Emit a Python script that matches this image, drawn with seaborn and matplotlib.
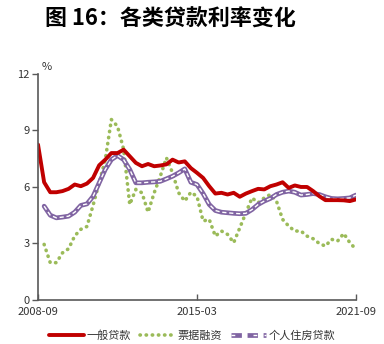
import numpy as np
import pandas as pd
import matplotlib
matplotlib.use("Agg")
import matplotlib.pyplot as plt
import seaborn as sns
from matplotlib.legend_handler import HandlerTuple
from matplotlib.lines import Line2D

# quarterly, 2008-09 .. 2021-09 (53 quarters)
quarters = pd.period_range("2008Q3", "2021Q3", freq="Q")
tick_labels = ["2008-09", "2015-03", "2021-09"]
tick_positions = [0, 26, 52]

general_loan = [8.25, 6.25, 5.72, 5.72, 5.78, 5.90, 6.13, 6.04, 6.18, 6.48,
                7.15, 7.45, 7.80, 7.80, 7.98, 7.63, 7.28, 7.10, 7.22, 7.10,
                7.14, 7.20, 7.45, 7.30, 7.36, 7.00, 6.75, 6.48, 6.04, 5.65,
                5.69, 5.60, 5.69, 5.48, 5.65, 5.78, 5.90, 5.87, 6.04, 6.13,
                6.25, 5.95, 6.08, 6.00, 6.00, 5.78, 5.51, 5.30, 5.30, 5.30,
                5.29, 5.25, 5.34]
bill_financing = [np.nan, 2.95, 1.98, 1.98, 2.50, 2.72, 3.40, 3.75, 3.90, 5.02,
                  6.22, 7.45, 9.58, 9.22, 8.00, 5.07, 5.87, 5.69, 4.66, 5.69,
                  6.57, 7.55, 6.75, 5.69, 5.25, 5.72, 5.50, 4.19, 4.28, 3.39,
                  3.66, 3.48, 3.04, 3.83, 4.63, 5.42, 5.16, 5.42, 5.60, 5.25,
                  4.28, 3.92, 3.66, 3.66, 3.39, 3.25, 3.00, 2.86, 3.22, 3.13,
                  3.53, 3.04, 2.69]
housing_loan = [np.nan, 4.98, 4.50, 4.36, 4.40, 4.45, 4.66, 5.02, 5.10, 5.50,
                6.22, 6.93, 7.45, 7.67, 7.45, 6.93, 6.22, 6.22, 6.25, 6.27,
                6.30, 6.43, 6.57, 6.75, 6.96, 6.25, 6.13, 5.65, 5.07, 4.75,
                4.66, 4.63, 4.60, 4.58, 4.60, 4.80, 5.07, 5.25, 5.39, 5.60,
                5.72, 5.78, 5.72, 5.57, 5.60, 5.65, 5.60, 5.48, 5.39, 5.37,
                5.39, 5.42, 5.57]
series_names = ["一般贷款", "票据融资", "个人住房贷款"]

df = pd.DataFrame({"idx": np.arange(len(quarters)),
                   series_names[0]: general_loan,
                   series_names[1]: bill_financing,
                   series_names[2]: housing_loan})

sns.set_style("white")
plt.rcParams["font.family"] = ["Noto Sans CJK SC", "DejaVu Sans"]

RED = "#C00000"
GREEN = "#9BBB59"
PURPLE = "#8064A2"

fig = plt.figure(figsize=(3.84, 3.44), dpi=100)
ax = fig.add_axes([0.099, 0.128, 0.828, 0.657])

sns.lineplot(data=df, x="idx", y=series_names[1], ax=ax, color=GREEN,
             linewidth=2.6, linestyle=(0, (0.1, 1.6)), dash_capstyle="round")
ax.lines[-1].set_dash_capstyle("round")
sns.lineplot(data=df, x="idx", y=series_names[2], ax=ax, color=PURPLE,
             linewidth=3.4)
sns.lineplot(data=df, x="idx", y=series_names[2], ax=ax, color="white",
             linewidth=1.0, linestyle=(0, (3, 2)))
sns.lineplot(data=df, x="idx", y=series_names[0], ax=ax, color=RED,
             linewidth=2.8)

ax.set_xlim(0, 52)
ax.set_ylim(0, 12)
ax.set_yticks([0, 3, 6, 9, 12])
ax.set_xticks(tick_positions)
ax.set_xticklabels(tick_labels)
ax.set_xlabel("")
ax.set_ylabel("")
for s in ["top", "right"]:
    ax.spines[s].set_visible(False)
for s in ["left", "bottom"]:
    ax.spines[s].set_color("#595959")
    ax.spines[s].set_linewidth(1.2)
ax.tick_params(axis="y", direction="out", length=4, width=1, color="#595959",
               labelsize=8, labelcolor="#333333", pad=2, left=True)
ax.tick_params(axis="x", direction="in", length=4, width=1, color="#595959",
               labelsize=8, labelcolor="#333333", pad=5, bottom=True)
ax.text(0.01, 1.01, "%", transform=ax.transAxes, fontsize=8, color="#333333",
        ha="left", va="bottom")

fig.text(0.443, 0.945, "图 16：各类贷款利率变化", fontsize=15.8, fontweight="bold",
         ha="center", va="center", color="black")

h_red = Line2D([], [], color=RED, linewidth=2.8)
h_green = Line2D([], [], color=GREEN, linewidth=2.6, linestyle=(0, (0.1, 1.6)),
                 dash_capstyle="round")
h_purple = (Line2D([], [], color=PURPLE, linewidth=3.4, linestyle=(0, (2.2, 1.2))),
            Line2D([], [], color="white", linewidth=1.0,
                   dashes=(0.8 * 3.4 / 1.0, 5.2)))
leg = fig.legend([h_red, h_green, h_purple], series_names, loc="center",
                 bbox_to_anchor=(0.5, 0.025), ncol=3, frameon=False, fontsize=8,
                 handlelength=3.2, handletextpad=0.2, columnspacing=0.8,
                 handler_map={tuple: HandlerTuple(ndivide=1)})
for t in leg.get_texts():
    t.set_color("#333333")

fig.savefig("out.png", dpi=100)
